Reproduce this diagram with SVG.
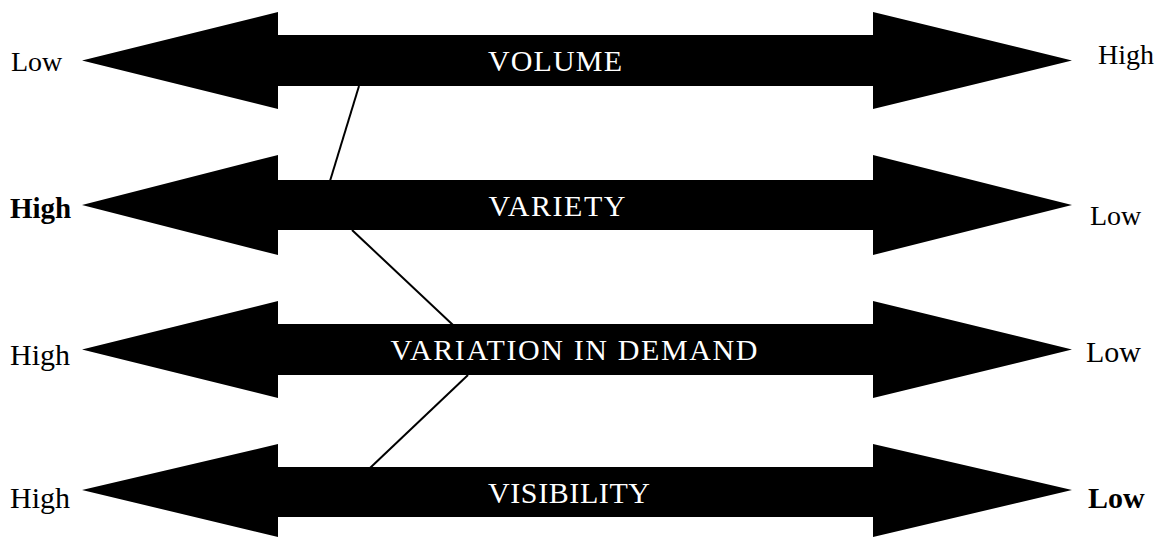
<svg xmlns="http://www.w3.org/2000/svg" width="1171" height="538" viewBox="0 0 1171 538">
  <style>
    .arrow { fill: #000; }
    .band { font-family: "Liberation Serif", "Times New Roman", serif; font-size: 30px; fill: #fff; text-anchor: middle; }
    .end { font-family: "Liberation Serif", "Times New Roman", serif; font-size: 28px; fill: #000; }
    .bold { font-weight: bold; }
    .link { stroke: #000; stroke-width: 2; fill: none; }
  </style>
  <rect x="0" y="0" width="1171" height="538" fill="#fff"/>
  <g id="connectors">
    <line class="link" x1="359" y1="86" x2="330" y2="181"/>
    <line class="link" x1="352" y1="230" x2="453" y2="325"/>
    <line class="link" x1="468" y1="375" x2="370" y2="468"/>
  </g>
  <g id="volume">
    <polygon class="arrow" points="82,60.5 278,12 278,35 873,35 873,12 1072,60.5 873,109 873,86 278,86 278,109"/>
    <text class="band" x="555" y="71" textLength="134" lengthAdjust="spacing">VOLUME</text>
    <text class="end" x="11" y="71">Low</text>
    <text class="end" x="1098" y="64">High</text>
  </g>
  <g id="variety">
    <polygon class="arrow" points="82,205 278,155 278,180 873,180 873,155 1072,205 873,255 873,230 278,230 278,255"/>
    <text class="band" x="557" y="216" textLength="137" lengthAdjust="spacing">VARIETY</text>
    <text class="end bold" x="10" y="218" style="font-size:29px">High</text>
    <text class="end" x="1090" y="225">Low</text>
  </g>
  <g id="variation">
    <polygon class="arrow" points="82,349.5 278,301 278,324 873,324 873,301 1072,349.5 873,398 873,375 278,375 278,398"/>
    <text class="band" x="574" y="360" textLength="367" lengthAdjust="spacing">VARIATION IN DEMAND</text>
    <text class="end" x="10" y="365" style="font-size:30px">High</text>
    <text class="end" x="1086" y="362" style="font-size:30px">Low</text>
  </g>
  <g id="visibility">
    <polygon class="arrow" points="82,490 278,444 278,467 873,467 873,444 1072,490 873,537 873,517 278,517 278,537"/>
    <text class="band" x="569" y="503" textLength="162" lengthAdjust="spacing">VISIBILITY</text>
    <text class="end" x="10" y="508" style="font-size:30px">High</text>
    <text class="end bold" x="1088" y="508" style="font-size:30px">Low</text>
  </g>
</svg>
